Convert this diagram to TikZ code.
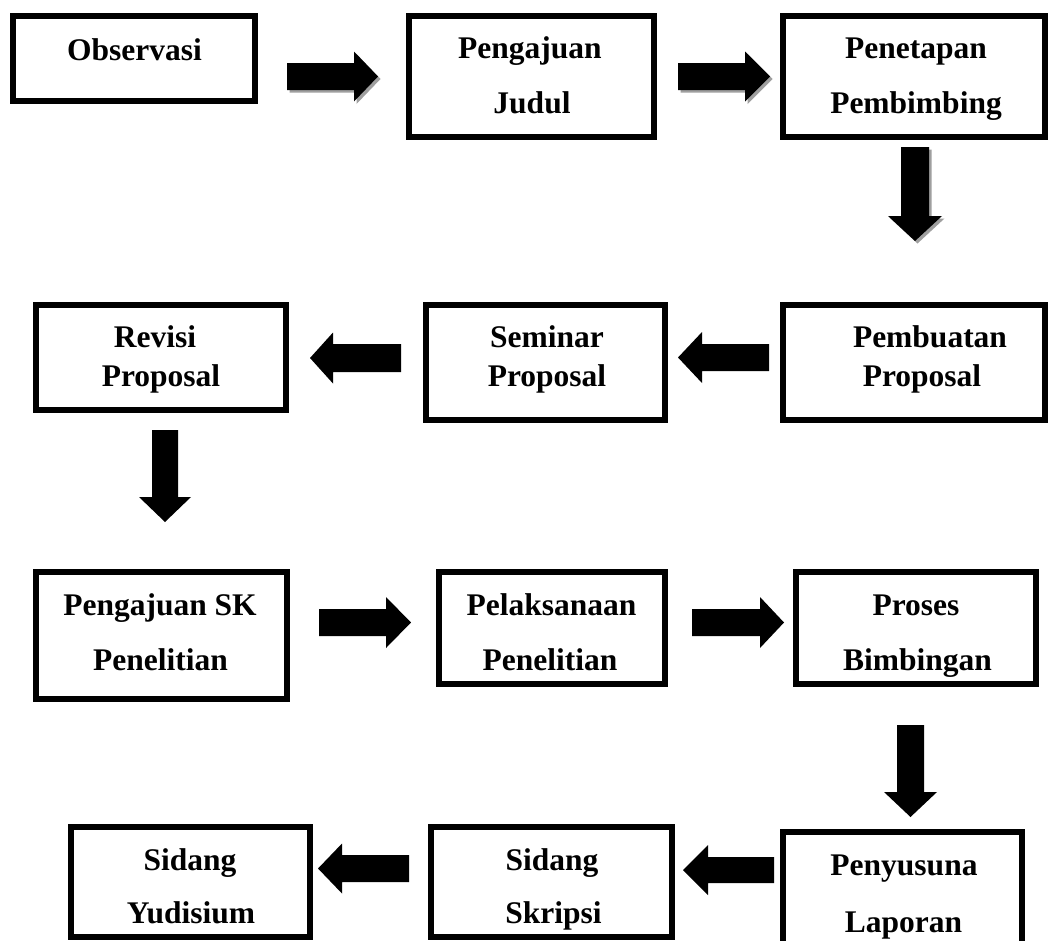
\documentclass[tikz,border=0pt]{standalone}
\usepackage{fontspec}
\setmainfont{Liberation Serif}
\newcommand\arrR[7][black]{\fill[#1] (#2,#3-#4) -- (#2+#5,#3-#4) -- (#2+#5,#3-#6) -- (#2+#5+#7,#3) -- (#2+#5,#3+#6) -- (#2+#5,#3+#4) -- (#2,#3+#4) -- cycle;}
\newcommand\arrL[7][black]{\fill[#1] (#2,#3-#4) -- (#2-#5,#3-#4) -- (#2-#5,#3-#6) -- (#2-#5-#7,#3) -- (#2-#5,#3+#6) -- (#2-#5,#3+#4) -- (#2,#3+#4) -- cycle;}
\newcommand\arrD[7][black]{\fill[#1] (#2-#4,#3) -- (#2-#4,#3+#5) -- (#2-#6,#3+#5) -- (#2,#3+#5+#7) -- (#2+#6,#3+#5) -- (#2+#4,#3+#5) -- (#2+#4,#3) -- cycle;}
\tikzset{
  boxnode/.style={draw=black, line width=6pt, inner sep=0pt, fill=white},
  txt/.style={anchor=base, inner sep=0pt, font=\fontsize{31.5}{36}\selectfont\bfseries},
  shadowfill/.style={gray!75, shift={(2.5,2.5)}}
}
\begin{document}
\begin{tikzpicture}[x=1pt,y=-1pt]
\clip (0,0) rectangle (1049,940);
\fill[white] (0,0) rectangle (1049,940);
% boxes
\node[boxnode, minimum width=242pt, minimum height=85pt]  (b1)  at (134,58.5) {};
\node[boxnode, minimum width=245pt, minimum height=121pt] (b2)  at (531.5,76.5) {};
\node[boxnode, minimum width=262pt, minimum height=121pt] (b3)  at (914,76.5) {};
\node[boxnode, minimum width=250pt, minimum height=105pt] (b4)  at (161,357.5) {};
\node[boxnode, minimum width=239pt, minimum height=115pt] (b5)  at (545.5,362.5) {};
\node[boxnode, minimum width=262pt, minimum height=115pt] (b6)  at (914,362.5) {};
\node[boxnode, minimum width=251pt, minimum height=127pt] (b7)  at (161.5,635.5) {};
\node[boxnode, minimum width=226pt, minimum height=112pt] (b8)  at (552,628) {};
\node[boxnode, minimum width=240pt, minimum height=112pt] (b9)  at (916,628) {};
\node[boxnode, minimum width=239pt, minimum height=110pt] (b10) at (190.5,882) {};
\node[boxnode, minimum width=241pt, minimum height=110pt] (b11) at (551.5,882) {};
\node[boxnode, minimum width=239pt, minimum height=165pt] (b12) at (902.5,914.5) {};
% texts
\node[txt] (t1)  at (134.5,60) {Observasi};
\node[txt] (t2a) at (530,58) {Pengajuan};
\node[txt] (t2b) at (532,113) {Judul};
\node[txt] (t3a) at (916,58) {Penetapan};
\node[txt] (t3b) at (916,113) {Pembimbing};
\node[txt] (t4a) at (155,347) {Revisi};
\node[txt] (t4b) at (161,386) {Proposal};
\node[txt] (t5a) at (547,347) {Seminar};
\node[txt] (t5b) at (547,386) {Proposal};
\node[txt] (t6a) at (930,347) {Pembuatan};
\node[txt] (t6b) at (922,386) {Proposal};
\node[txt] (t7a) at (160,615) {Pengajuan SK};
\node[txt] (t7b) at (160.5,670) {Penelitian};
\node[txt] (t8a) at (551.5,615) {Pelaksanaan};
\node[txt] (t8b) at (550,670) {Penelitian};
\node[txt] (t9a) at (916,615) {Proses};
\node[txt] (t9b) at (917.5,670) {Bimbingan};
\node[txt] (t10a) at (190,870) {Sidang};
\node[txt] (t10b) at (191,923) {Yudisium};
\node[txt] (t11a) at (552,870) {Sidang};
\node[txt] (t11b) at (553.5,923) {Skripsi};
\node[txt] (t12a) at (904,875) {Penyusuna};
\node[txt] (t12b) at (903.5,932) {Laporan};
% block arrows
\arrR[shadowfill]{287}{76.5}{13.5}{67}{25}{24}
\arrR{287}{76.5}{13.5}{67}{25}{24}
\arrR[shadowfill]{678}{76.5}{13.5}{67}{25}{25}
\arrR{678}{76.5}{13.5}{67}{25}{25}
\arrD[shadowfill]{915}{147}{14}{69}{27}{25}
\arrD{915}{147}{14}{69}{27}{25}
\arrL{769}{357.5}{13.5}{67}{25.5}{24}
\arrL{401}{358}{14}{68}{25.5}{23}
\arrD{165}{430}{13}{67}{26}{25}
\arrR{319}{622.5}{13.5}{67}{25.5}{25}
\arrR{692}{622.5}{13.5}{68}{25.5}{24}
\arrD{910.5}{725}{13.5}{67}{26.5}{25}
\arrL{774}{870}{13}{66}{25}{25}
\arrL{409}{868.5}{13.5}{67}{25}{24}
\end{tikzpicture}
\end{document}
